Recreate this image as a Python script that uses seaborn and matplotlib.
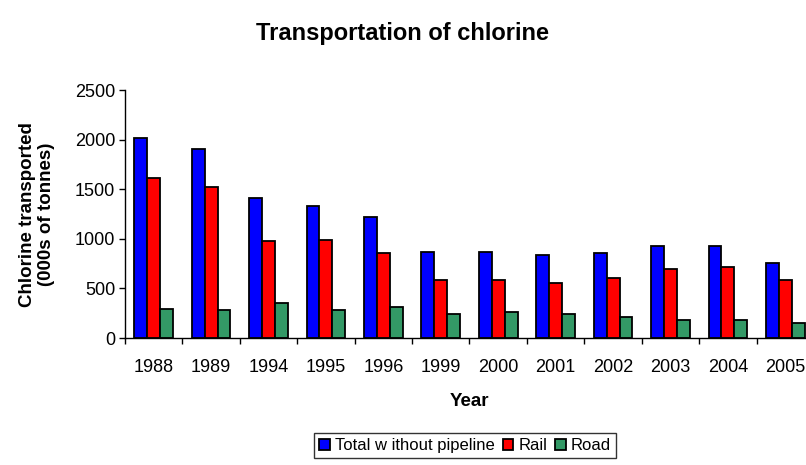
import numpy as np
import pandas as pd
import matplotlib
matplotlib.use("Agg")
import matplotlib.pyplot as plt
import seaborn as sns

# values (000s of tonnes)
years = ["1988", "1989", "1994", "1995", "1996", "1999", "2000", "2001", "2002", "2003", "2004", "2005"]
total = [2020, 1910, 1415, 1335, 1225, 867, 867, 837, 854, 931, 931, 760]
rail = [1613, 1519, 978, 992, 854, 589, 589, 558, 605, 696, 713, 589]
road = [292, 279, 357, 279, 309, 246, 262, 246, 216, 185, 185, 151]
series = ["Total w ithout pipeline", "Rail", "Road"]
colours = ["#0000FF", "#FF0000", "#339966"]

df = pd.DataFrame({"Year": years * 3,
                   "value": total + rail + road,
                   "Series": [series[0]] * 12 + [series[1]] * 12 + [series[2]] * 12})

sns.set_style("white")
plt.rcParams["font.family"] = ["Liberation Sans", "DejaVu Sans"]
plt.rcParams["text.color"] = "black"
plt.rcParams["axes.labelcolor"] = "black"
plt.rcParams["xtick.color"] = "black"
plt.rcParams["ytick.color"] = "black"

fig = plt.figure(figsize=(8.06, 4.65), dpi=100)
ax = fig.add_axes([0.155, 0.273, 0.855, 0.533])

sns.barplot(ax=ax, data=df, x="Year", y="value", hue="Series", hue_order=series,
            palette=colours, width=0.675, saturation=1, edgecolor="black", linewidth=1.3)

ax.set_ylim(0, 2500)
ax.set_xlim(-0.5, 11.5)
ax.set_yticks(np.arange(0, 2501, 500))
ax.set_xticks(np.arange(-0.5, 12, 1), minor=True)
ax.tick_params(axis="y", which="major", direction="out", length=4, width=1, color="black",
               labelsize=13, pad=3, left=True)
ax.tick_params(axis="x", which="major", length=0, labelsize=13, pad=15)
ax.tick_params(axis="x", which="minor", direction="out", length=4, width=1, color="black", bottom=True)

for side in ["top", "right"]:
    ax.spines[side].set_visible(False)
for side in ["left", "bottom"]:
    ax.spines[side].set_color("black")
    ax.spines[side].set_linewidth(1)

ax.set_xlabel("Year", fontsize=13.5, fontweight="bold", labelpad=12)
ax.set_ylabel("Chlorine transported\n(000s of tonnes)", fontsize=13.5, fontweight="bold", labelpad=14)
fig.text(0.5, 0.927, "Transportation of chlorine", ha="center", va="center",
         fontsize=17, fontweight="bold")

handles, labels = ax.get_legend_handles_labels()
ax.get_legend().remove()
leg = fig.legend(handles, labels, loc="center", bbox_to_anchor=(0.577, 0.041), ncol=3,
                 fontsize=12, frameon=True, fancybox=False, edgecolor="black",
                 handlelength=0.65, handleheight=0.65, handletextpad=0.3,
                 columnspacing=0.45, borderpad=0.3, borderaxespad=0)
leg.get_frame().set_linewidth(1)

fig.savefig("out.png", dpi=100)
